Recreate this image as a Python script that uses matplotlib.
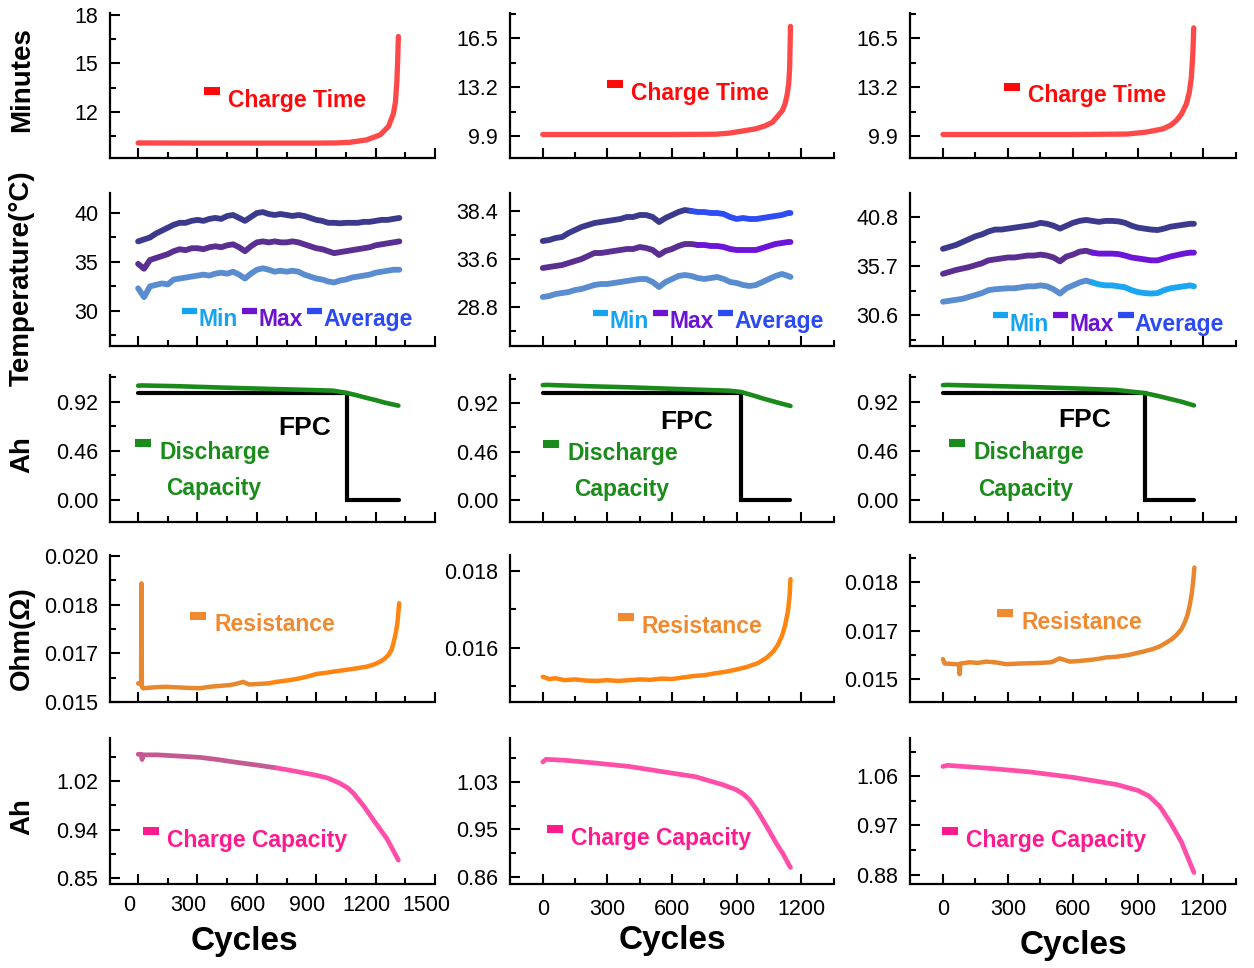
import numpy as np
import matplotlib
matplotlib.use("Agg")
import matplotlib.pyplot as plt
from matplotlib.lines import Line2D
from matplotlib.legend_handler import HandlerLine2D
import matplotlib.transforms as mtransforms

plt.rcParams['font.family'] = ['Liberation Sans', 'DejaVu Sans']

# ======================= DATA =======================
# ---- Row 1: charge time (minutes)
ct_cyc = [
    [0, 300, 600, 900, 1000, 1071, 1155, 1223, 1265, 1290, 1300, 1307, 1311, 1315],
    [0, 300, 600, 800, 865, 988, 1030, 1066, 1112, 1125, 1135, 1142, 1146, 1148, 1150],
    [0, 300, 600, 850, 938, 1015, 1050, 1077, 1100, 1123, 1137, 1146, 1153, 1157],
]
ct_val = [
    [10.08, 10.07, 10.07, 10.07, 10.08, 10.12, 10.27, 10.58, 11.1, 11.9, 12.6, 13.8, 15.0, 16.65],
    [10.03, 10.03, 10.03, 10.05, 10.12, 10.41, 10.6, 10.85, 11.63, 12.1, 12.75, 13.5, 14.5, 15.8, 17.3],
    [10.03, 10.03, 10.03, 10.06, 10.19, 10.41, 10.65, 10.97, 11.4, 12.08, 12.9, 13.86, 15.5, 17.2],
]

# ---- Row 2: temperature (°C)
temp_cyc = [
    list(range(0, 1321, 30)),
    list(range(0, 1141, 30)) + [1150],
    list(range(0, 1141, 30)) + [1158],
]
temp_avg = [
    [37.1, 37.3, 37.5, 37.9, 38.2, 38.5, 38.8, 39.0, 39.0, 39.2, 39.3, 39.2, 39.4, 39.5, 39.4,
     39.7, 39.8, 39.5, 39.2, 39.6, 40.0, 40.1, 39.9, 39.8, 39.9, 39.8, 39.7, 39.8, 39.7, 39.5,
     39.3, 39.2, 39.0, 39.0, 38.95, 39.0, 39.0, 39.0, 39.1, 39.1, 39.2, 39.3, 39.3, 39.4, 39.5],
    [35.4, 35.5, 35.7, 35.8, 36.2, 36.5, 36.8, 37.0, 37.2, 37.3, 37.4, 37.5, 37.6, 37.8, 37.8,
     38.0, 38.0, 37.8, 37.3, 37.7, 38.0, 38.3, 38.5, 38.4, 38.3, 38.3, 38.2, 38.2, 38.1, 37.8,
     37.6, 37.7, 37.6, 37.6, 37.7, 37.8, 37.9, 38.0, 38.2, 38.2],
    [37.5, 37.7, 37.9, 38.2, 38.5, 38.8, 39.0, 39.3, 39.5, 39.5, 39.6, 39.7, 39.8, 39.9, 40.0,
     40.2, 40.1, 39.9, 39.6, 39.9, 40.2, 40.4, 40.5, 40.4, 40.3, 40.4, 40.4, 40.35, 40.2, 39.9,
     39.7, 39.6, 39.5, 39.45, 39.6, 39.8, 39.9, 40.0, 40.1, 40.1],
]
temp_max = [
    [34.8, 34.3, 35.2, 35.4, 35.6, 35.8, 36.1, 36.3, 36.2, 36.4, 36.4, 36.3, 36.5, 36.6, 36.5,
     36.7, 36.8, 36.5, 36.1, 36.6, 37.0, 37.1, 37.0, 37.1, 37.0, 37.0, 37.1, 37.0, 36.8, 36.6,
     36.4, 36.3, 36.1, 35.9, 36.0, 36.1, 36.2, 36.3, 36.4, 36.5, 36.7, 36.8, 36.9, 37.0, 37.1],
    [32.7, 32.8, 32.9, 33.0, 33.2, 33.4, 33.6, 33.9, 34.2, 34.2, 34.3, 34.4, 34.5, 34.6, 34.6,
     34.8, 34.7, 34.5, 34.0, 34.4, 34.6, 34.9, 35.1, 35.1, 35.0, 35.0, 34.9, 34.9, 34.8, 34.6,
     34.5, 34.5, 34.5, 34.5, 34.7, 34.9, 35.1, 35.2, 35.3, 35.3],
    [34.9, 35.1, 35.3, 35.45, 35.6, 35.8, 36.0, 36.3, 36.4, 36.5, 36.6, 36.6, 36.7, 36.8, 36.8,
     36.9, 36.8, 36.6, 36.2, 36.7, 36.9, 37.2, 37.3, 37.1, 37.0, 37.0, 37.0, 36.95, 36.8, 36.6,
     36.5, 36.4, 36.3, 36.3, 36.5, 36.7, 36.85, 37.0, 37.1, 37.1],
]
temp_min = [
    [32.3, 31.4, 32.5, 32.65, 32.8, 32.7, 33.2, 33.3, 33.4, 33.5, 33.6, 33.7, 33.6, 33.8, 33.9,
     33.8, 34.0, 33.7, 33.3, 33.8, 34.2, 34.35, 34.2, 34.0, 34.1, 34.0, 34.1, 34.0, 33.7, 33.5,
     33.3, 33.2, 33.0, 32.9, 33.1, 33.2, 33.4, 33.5, 33.6, 33.7, 33.9, 34.0, 34.1, 34.2, 34.2],
    [29.8, 29.9, 30.1, 30.2, 30.3, 30.5, 30.6, 30.8, 31.0, 31.1, 31.1, 31.2, 31.3, 31.4, 31.5,
     31.6, 31.6, 31.3, 30.8, 31.3, 31.6, 31.9, 32.0, 31.9, 31.7, 31.6, 31.7, 31.8, 31.6, 31.3,
     31.2, 31.0, 30.9, 31.0, 31.3, 31.6, 31.9, 32.1, 31.9, 31.8],
    [32.0, 32.1, 32.2, 32.3, 32.5, 32.7, 32.9, 33.2, 33.3, 33.35, 33.4, 33.4, 33.5, 33.6, 33.6,
     33.7, 33.6, 33.3, 32.85, 33.4, 33.7, 34.0, 34.2, 34.0, 33.8, 33.7, 33.7, 33.6, 33.5, 33.2,
     33.0, 32.9, 32.85, 32.9, 33.2, 33.4, 33.5, 33.6, 33.7, 33.6],
]

# ---- Row 3: discharge capacity (Ah) and FPC step
dc_cyc = [
    [0, 20, 200, 480, 700, 900, 986, 1054, 1100, 1155, 1200, 1240, 1280, 1315],
    [0, 20, 200, 402, 600, 865, 920, 942, 980, 1019, 1080, 1150],
    [0, 20, 200, 400, 600, 800, 932, 960, 1000, 1050, 1100, 1158],
]
dc_val = [
    [1.070, 1.072, 1.065, 1.049, 1.038, 1.028, 1.023, 1.002, 0.982, 0.955, 0.935, 0.914, 0.897, 0.883],
    [1.090, 1.092, 1.080, 1.069, 1.055, 1.037, 1.025, 1.012, 0.990, 0.965, 0.930, 0.892],
    [1.075, 1.077, 1.068, 1.058, 1.045, 1.030, 1.000, 0.988, 0.970, 0.945, 0.920, 0.885],
]
fpc_cyc = [[0, 1055, 1055, 1320], [0, 920, 920, 1150], [0, 932, 932, 1158]]
fpc_val = [[1.0, 1.0, 0.0, 0.0], [1.012, 1.012, 0.0, 0.0], [1.0, 1.0, 0.0, 0.0]]

# ---- Row 4: resistance (Ohm)
res_cyc = [
    [0, 15, 17, 19, 25, 60, 100, 143, 200, 260, 312, 360, 410, 464, 500, 531, 560, 615, 660,
     700, 767, 818, 860, 902, 950, 987, 1030, 1071, 1110, 1155, 1190, 1223, 1245, 1265, 1280,
     1290, 1300, 1310, 1319],
    [0, 30, 60, 100, 150, 200, 250, 300, 350, 400, 450, 500, 550, 600, 650, 700, 750, 800, 850,
     900, 950, 1000, 1040, 1070, 1090, 1110, 1125, 1138, 1146, 1150],
    [0, 8, 40, 75, 77, 80, 123, 160, 200, 250, 292, 350, 400, 450, 500, 538, 585, 630, 677, 720,
     754, 800, 831, 860, 892, 930, 969, 1000, 1031, 1055, 1077, 1100, 1115, 1128, 1138, 1147,
     1154, 1160],
]
res_val = [
    [0.01564, 0.01560, 0.01906, 0.01552, 0.01547, 0.01549, 0.01551, 0.01552, 0.01550, 0.01548,
     0.01547, 0.01552, 0.01555, 0.01558, 0.01563, 0.01569, 0.01560, 0.01562, 0.01564, 0.01569,
     0.01575, 0.01581, 0.01588, 0.01596, 0.01600, 0.01604, 0.01608, 0.01612, 0.01616, 0.01621,
     0.01628, 0.01638, 0.01648, 0.01661, 0.01678, 0.01701, 0.01730, 0.01769, 0.01838],
    [0.01524, 0.01518, 0.01520, 0.01515, 0.01517, 0.01514, 0.01513, 0.01515, 0.01513, 0.01515,
     0.01517, 0.01516, 0.01519, 0.01518, 0.01522, 0.01526, 0.01528, 0.01533, 0.01537, 0.01543,
     0.01550, 0.01560, 0.01574, 0.01590, 0.01606, 0.01630, 0.01658, 0.01695, 0.01735, 0.01779],
    [0.01562, 0.01548, 0.01547, 0.01545, 0.01515, 0.01548, 0.01552, 0.01550, 0.01554, 0.01551,
     0.01546, 0.01548, 0.01549, 0.01550, 0.01552, 0.01564, 0.01554, 0.01556, 0.01559, 0.01563,
     0.01567, 0.01569, 0.01572, 0.01575, 0.01580, 0.01586, 0.01593, 0.01601, 0.01613, 0.01623,
     0.01636, 0.01654, 0.01675, 0.01698, 0.01727, 0.01760, 0.01799, 0.01845],
]

# ---- Row 5: charge capacity (Ah)
cc_cyc = [
    [0, 15, 20, 25, 100, 200, 312, 400, 500, 599, 700, 800, 894, 960, 1020, 1060, 1088, 1140,
     1189, 1256, 1315],
    [0, 15, 100, 247, 402, 556, 710, 834, 896, 930, 958, 990, 1019, 1050, 1081, 1115, 1143, 1150],
    [0, 20, 200, 400, 600, 800, 900, 950, 1000, 1050, 1100, 1158],
]
cc_val = [
    [1.066, 1.066, 1.057, 1.065, 1.065, 1.063, 1.0607, 1.057, 1.052, 1.0475, 1.0425, 1.0365,
     1.0303, 1.025, 1.016, 1.008, 0.9989, 0.977, 0.953, 0.9215, 0.884],
    [1.065, 1.0696, 1.068, 1.063, 1.057, 1.048, 1.039, 1.0253, 1.0167, 1.009, 0.9995, 0.983,
     0.965, 0.945, 0.9243, 0.904, 0.8845, 0.880],
    [1.078, 1.080, 1.075, 1.068, 1.058, 1.045, 1.034, 1.024, 1.005, 0.975, 0.940, 0.884],
]

# ---- Axis ticks / labels
x_ticks = [[0, 300, 600, 900, 1200, 1500], [0, 300, 600, 900, 1200], [0, 300, 600, 900, 1200]]
x_labels = [["0", "300", "600", "900", "1200", "1500"], ["0", "300", "600", "900", "1200"],
            ["0", "300", "600", "900", "1200"]]
x_lims = [(-142, 1500), (-152, 1352), (-152, 1352)]

y_ticks = {
    (0, 0): [12, 15, 18], (0, 1): [9.9, 13.2, 16.5], (0, 2): [9.9, 13.2, 16.5],
    (1, 0): [30, 35, 40], (1, 1): [28.8, 33.6, 38.4], (1, 2): [30.6, 35.7, 40.8],
    (2, 0): [0.0, 0.46, 0.92], (2, 1): [0.0, 0.46, 0.92], (2, 2): [0.0, 0.46, 0.92],
    (3, 0): [0.015, 0.0166667, 0.0183333, 0.020], (3, 1): [0.014, 0.016, 0.018],
    (3, 2): [0.015, 0.0165, 0.018],
    (4, 0): [0.853333, 0.936667, 1.02], (4, 1): [0.863333, 0.946667, 1.03], (4, 2): [0.88, 0.97, 1.06],
}
y_labels = {
    (0, 0): ["12", "15", "18"], (0, 1): ["9.9", "13.2", "16.5"], (0, 2): ["9.9", "13.2", "16.5"],
    (1, 0): ["30", "35", "40"], (1, 1): ["28.8", "33.6", "38.4"], (1, 2): ["30.6", "35.7", "40.8"],
    (2, 0): ["0.00", "0.46", "0.92"], (2, 1): ["0.00", "0.46", "0.92"], (2, 2): ["0.00", "0.46", "0.92"],
    (3, 0): ["0.015", "0.017", "0.018", "0.020"], (3, 1): ["0.014", "0.016", "0.018"],
    (3, 2): ["0.015", "0.017", "0.018"],
    (4, 0): ["0.85", "0.94", "1.02"], (4, 1): ["0.86", "0.95", "1.03"], (4, 2): ["0.88", "0.97", "1.06"],
}
y_lims = {
    (0, 0): (9.15, 18.1), (0, 1): (8.45, 18.2), (0, 2): (8.45, 18.2),
    (1, 0): (26.4, 42.05), (1, 1): (24.9, 40.2), (1, 2): (27.4, 43.3),
    (2, 0): (-0.207, 1.17), (2, 1): (-0.209, 1.186), (2, 2): (-0.207, 1.17),
    (3, 0): (0.015, 0.02003), (3, 1): (0.01458, 0.01842), (3, 2): (0.01429, 0.01884),
    (4, 0): (0.843, 1.094), (4, 1): (0.851, 1.107), (4, 2): (0.863, 1.13),
}
row_ylabels = ["Minutes", "Temperature(°C)", "Ah", "Ohm(Ω)", "Ah"]

# ======================= STYLE =======================
RED_LINE, RED_TXT = '#ff4848', '#ff0a0a'
AVG_D, MAX_D, MIN_D = '#3c3a8d', '#5b2e92', '#5a8dd0'
AVG_B, MAX_B, MIN_B = '#2d4cf5', '#6c14d8', '#1aa6f0'
LEG_MIN, LEG_MAX, LEG_AVG = '#16a4f2', '#6c14d2', '#2b4af2'
GREEN_LINE, GREEN_TXT = '#1a8a1a', '#1b8c1b'
ORANGE_D, ORANGE_B, ORANGE_TXT = '#e8872e', '#ff8410', '#ef8a30'
PINK_D, PINK_B, PINK_TXT = '#c45a92', '#ff4fa8', '#ff1a8e'

W, H, DPI = 1254, 968, 100
col_l = [110, 510, 910]
col_r = [435, 834, 1236]
row_t = [13, 193, 375, 555, 738]
row_b = [158, 346, 522, 702, 884]
x_pad = [8, 10.5, 10.5]

fig = plt.figure(figsize=(W / DPI, H / DPI), dpi=DPI)


class RaisedHandler(HandlerLine2D):
    def __init__(self, raise_frac=0.34, **kw):
        super().__init__(**kw)
        self.raise_frac = raise_frac

    def create_artists(self, legend, orig_handle, xdescent, ydescent, width, height, fontsize, trans):
        arts = super().create_artists(legend, orig_handle, xdescent, ydescent, width, height,
                                      fontsize, trans)
        for a in arts:
            a.set_ydata(np.asarray(a.get_ydata(), float) + self.raise_frac * fontsize)
        return arts


def add_legend(ax, labels, colors, x, y, lw=5.8, hl=0.7, htp=0.35, cs=0.2, ncol=1, fs=16.5):
    handles = [Line2D([], [], color=c, lw=lw, solid_capstyle='butt') for c in colors]
    leg = ax.legend(handles, labels, loc='center left', bbox_to_anchor=(x, y), frameon=False,
                    borderpad=0, borderaxespad=0, handlelength=hl, handletextpad=htp,
                    columnspacing=cs, ncol=ncol, prop={'size': fs, 'weight': 'bold'},
                    handler_map={Line2D: RaisedHandler()})
    for t, c in zip(leg.get_texts(), colors):
        t.set_color(c)
    return leg


def plot_split(ax, x, y, split, c1, c2, lw):
    x = np.asarray(x, float)
    y = np.asarray(y, float)
    if split is None:
        ax.plot(x, y, color=c1, lw=lw, solid_capstyle='round', solid_joinstyle='round')
        return
    m1 = x <= split
    m2 = x >= x[m1][-1]
    ax.plot(x[m1], y[m1], color=c1, lw=lw, solid_capstyle='round', solid_joinstyle='round')
    ax.plot(x[m2], y[m2], color=c2, lw=lw, solid_capstyle='round', solid_joinstyle='round')


axes = {}
for r in range(5):
    for c in range(3):
        left = col_l[c] / W
        bottom = 1 - row_b[r] / H
        ax = fig.add_axes([left, bottom, (col_r[c] - col_l[c]) / W, (row_b[r] - row_t[r]) / H])
        axes[(r, c)] = ax
        for s in ['top', 'right']:
            ax.spines[s].set_visible(False)
        for s in ['left', 'bottom']:
            ax.spines[s].set_linewidth(1.6)
        xt = x_ticks[c]
        ax.set_xticks(xt, labels=x_labels[c])
        xm = [v + 150 for v in xt]
        ax.set_xticks(xm, minor=True)
        yt = y_ticks[(r, c)]
        ax.set_yticks(yt, labels=y_labels[(r, c)])
        step = yt[1] - yt[0]
        ym = [yt[0] - step / 2] + [v + step / 2 for v in yt]
        ax.set_yticks(ym, minor=True)
        # limits after ticks (set_xticks may expand the view)
        ax.set_xlim(*x_lims[c])
        ax.set_ylim(*y_lims[(r, c)])
        ax.tick_params(which='both', direction='in', width=1.5, colors='black')
        ax.tick_params(which='major', length=7.5)
        ax.tick_params(which='minor', length=4)
        ax.tick_params(axis='y', pad=8.5, labelsize=15.5)
        ax.tick_params(axis='x', pad=x_pad[c], labelsize=15.5)
        if r < 4:
            ax.tick_params(axis='x', labelbottom=False)
        ax.patch.set_alpha(0)

# ---- Row 1
ct_leg = [(0.289, 0.40), (0.30, 0.448), (0.288, 0.428)]
for c in range(3):
    ax = axes[(0, c)]
    ax.plot(ct_cyc[c], ct_val[c], color=RED_LINE, lw=3.8, solid_capstyle='round',
            solid_joinstyle='round')
    add_legend(ax, ["Charge Time"], [RED_TXT], *ct_leg[c])

# ---- Row 2
splits_avg = [None, 705, None]
splits_max = [None, 720, 705]
splits_min = [None, None, 690]
t_leg = [(0.2215, 0.17), (0.256, 0.157), (0.255, 0.143)]
for c in range(3):
    ax = axes[(1, c)]
    plot_split(ax, temp_cyc[c], temp_avg[c], splits_avg[c], AVG_D, AVG_B, 4.2)
    plot_split(ax, temp_cyc[c], temp_max[c], splits_max[c], MAX_D, MAX_B, 4.2)
    plot_split(ax, temp_cyc[c], temp_min[c], splits_min[c], MIN_D, MIN_B, 4.2)
    add_legend(ax, ["Min", "Max", "Average"], [LEG_MIN, LEG_MAX, LEG_AVG], *t_leg[c],
               lw=4.5, hl=0.66, htp=0.05, cs=0.2, ncol=3)

# ---- Row 3
d_leg = [(0.077, 0.476), (0.102, 0.469), (0.12, 0.476)]
cap_pos = [(0.32, 0.231), (0.346, 0.218), (0.356, 0.218)]
fpc_pos = [(0.60, 0.64), (0.546, 0.68), (0.537, 0.694)]
for c in range(3):
    ax = axes[(2, c)]
    ax.plot(fpc_cyc[c], fpc_val[c], color='black', lw=3.0, solid_capstyle='round',
            solid_joinstyle='miter')
    ax.plot(dc_cyc[c], dc_val[c], color=GREEN_LINE, lw=3.3, solid_capstyle='round',
            solid_joinstyle='round')
    add_legend(ax, ["Discharge"], [GREEN_TXT], *d_leg[c])
    ax.text(*cap_pos[c], "Capacity", transform=ax.transAxes, ha='center', va='center',
            fontsize=16.5, fontweight='bold', color=GREEN_TXT)
    ax.text(*fpc_pos[c], "FPC", transform=ax.transAxes, ha='center', va='center',
            fontsize=19, fontweight='bold', color='black')

# ---- Row 4
r_leg = [(0.246, 0.524), (0.333, 0.517), (0.267, 0.544)]
r_split = [690, None, None]
r_col1 = [ORANGE_D, ORANGE_B, ORANGE_D]
for c in range(3):
    ax = axes[(3, c)]
    plot_split(ax, res_cyc[c], res_val[c], r_split[c], r_col1[c], ORANGE_B, 3.2)
    add_legend(ax, ["Resistance"], [ORANGE_TXT], *r_leg[c])

# ---- Row 5
p_leg = [(0.1015, 0.30), (0.114, 0.315), (0.098, 0.30)]
p_split = [700, None, None]
p_col1 = [PINK_D, PINK_B, PINK_B]
for c in range(3):
    ax = axes[(4, c)]
    plot_split(ax, cc_cyc[c], cc_val[c], p_split[c], p_col1[c], PINK_B, 3.4)
    add_legend(ax, ["Charge Capacity"], [PINK_TXT], *p_leg[c])

# ---- Axis labels
ylab_y = [0.538, 0.444, 0.456, 0.435, 0.459]
for r in range(5):
    ax = axes[(r, 0)]
    ax.set_ylabel(row_ylabels[r], fontsize=20, fontweight='bold')
    ax.yaxis.set_label_coords(-0.271, ylab_y[r])
    ax.yaxis.label.set_verticalalignment('center')

xlab_pos = [(0.415, -0.397), (0.5, -0.384), (0.5, -0.418)]
for c in range(3):
    ax = axes[(4, c)]
    ax.set_xlabel("Cycles", fontsize=24, fontweight='bold')
    ax.xaxis.set_label_coords(*xlab_pos[c])
    ax.xaxis.label.set_verticalalignment('center')

# shift first-column x tick labels slightly left (as in reference)
shift = mtransforms.ScaledTranslation(-0.09, 0, fig.dpi_scale_trans)
for lab in axes[(4, 0)].get_xticklabels():
    lab.set_transform(lab.get_transform() + shift)

fig.savefig("out.png", dpi=DPI)
